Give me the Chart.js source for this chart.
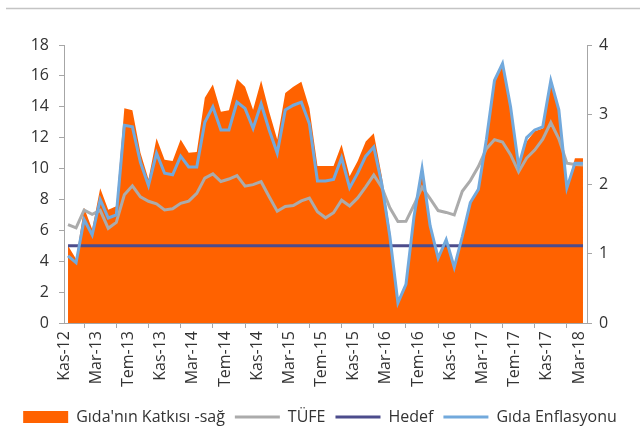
<!DOCTYPE html>
<html>
<head>
<meta charset="utf-8">
<script src="https://cdn.jsdelivr.net/npm/chart.js@4.4.1/dist/chart.umd.min.js"></script>
<style>
  body { margin: 0; background: #fff; }
</style>
</head>
<body>
<canvas id="chart" width="640" height="437"></canvas>
<script>
// aylar (Kas-12 .. Mar-18)
const categories = [
  'Kas-12','Ara-12',
  'Oca-13','Şub-13','Mar-13','Nis-13','May-13','Haz-13','Tem-13','Ağu-13','Eyl-13','Eki-13','Kas-13','Ara-13',
  'Oca-14','Şub-14','Mar-14','Nis-14','May-14','Haz-14','Tem-14','Ağu-14','Eyl-14','Eki-14','Kas-14','Ara-14',
  'Oca-15','Şub-15','Mar-15','Nis-15','May-15','Haz-15','Tem-15','Ağu-15','Eyl-15','Eki-15','Kas-15','Ara-15',
  'Oca-16','Şub-16','Mar-16','Nis-16','May-16','Haz-16','Tem-16','Ağu-16','Eyl-16','Eki-16','Kas-16','Ara-16',
  'Oca-17','Şub-17','Mar-17','Nis-17','May-17','Haz-17','Tem-17','Ağu-17','Eyl-17','Eki-17','Kas-17','Ara-17',
  'Oca-18','Şub-18','Mar-18'
];

// Gıda'nın Katkısı (sağ eksen)
const gidaKatkisi = [
  1.11, 0.92,
  1.66, 1.35, 1.94, 1.63, 1.68, 3.09, 3.06, 2.45, 2.07, 2.66, 2.35, 2.33,
  2.64, 2.45, 2.46, 3.24, 3.43, 3.04, 3.06, 3.51, 3.40, 3.07, 3.49, 3.04,
  2.64, 3.31, 3.40, 3.47, 3.09, 2.26, 2.26, 2.26, 2.57, 2.11, 2.33, 2.61,
  2.73, 2.11, 1.35, 0.30, 0.56, 1.55, 2.20, 1.35, 0.92, 1.18, 0.77, 1.23,
  1.73, 1.92, 2.64, 3.50, 3.74, 3.12, 2.26, 2.61, 2.76, 2.80, 3.45, 3.07,
  1.95, 2.37, 2.37
];

// TÜFE (sol eksen)
const tufe = [
  6.37, 6.16,
  7.31, 7.03, 7.29, 6.13, 6.51, 8.30, 8.88, 8.17, 7.88, 7.71, 7.32, 7.40,
  7.75, 7.89, 8.39, 9.38, 9.66, 9.16, 9.32, 9.54, 8.86, 8.96, 9.15, 8.17,
  7.24, 7.55, 7.61, 7.91, 8.09, 7.20, 6.81, 7.14, 7.95, 7.58, 8.10, 8.81,
  9.58, 8.78, 7.46, 6.57, 6.58, 7.64, 8.79, 8.05, 7.28, 7.16, 7.00, 8.53,
  9.22, 10.13, 11.29, 11.87, 11.72, 10.90, 9.79, 10.68, 11.20, 11.90, 12.98, 11.92,
  10.35, 10.26, 10.23
];

// Hedef
const hedef = [
  5, 5,
  5, 5, 5, 5, 5, 5, 5, 5, 5, 5, 5, 5,
  5, 5, 5, 5, 5, 5, 5, 5, 5, 5, 5, 5,
  5, 5, 5, 5, 5, 5, 5, 5, 5, 5, 5, 5,
  5, 5, 5, 5, 5, 5, 5, 5, 5, 5, 5, 5,
  5, 5, 5, 5, 5, 5, 5, 5, 5, 5, 5, 5,
  5, 5, 5
];

// Gıda Enflasyonu (sol eksen)
const gidaEnflasyonu = [
  4.35, 3.90,
  6.70, 5.70, 8.00, 6.80, 7.00, 12.80, 12.70, 10.40, 8.90, 11.00, 9.70, 9.60,
  10.80, 10.10, 10.10, 13.00, 14.00, 12.50, 12.50, 14.30, 13.90, 12.60, 14.20, 12.50,
  11.00, 13.80, 14.10, 14.30, 12.90, 9.20, 9.20, 9.30, 10.70, 8.75, 9.70, 10.80,
  11.40, 9.00, 5.60, 1.30, 2.50, 6.90, 10.00, 6.30, 4.20, 5.40, 3.60, 5.60,
  7.80, 8.65, 11.90, 15.70, 16.80, 14.00, 10.15, 12.00, 12.50, 12.70, 15.70, 13.80,
  8.75, 10.35, 10.35
];

const leftTicks = [0, 2, 4, 6, 8, 10, 12, 14, 16, 18];
const rightTicks = [0, 1, 2, 3, 4];

const ORANGE = '#FF6200';
const GREY = '#ABABAB';
const NAVY = '#4C4C8C';
const BLUE = '#72A9DC';
const AXIS = '#A6A6A6';
const TEXT = '#333333';

Chart.defaults.font.family = "'Open Sans', sans-serif";
Chart.defaults.color = TEXT;

// ince gri üst çizgi
const topLine = {
  id: 'topLine',
  beforeDraw(c) {
    const ctx = c.ctx;
    ctx.save();
    ctx.strokeStyle = '#C4C4C4';
    ctx.lineWidth = 1.5;
    ctx.beginPath();
    ctx.moveTo(6, 8.5);
    ctx.lineTo(640, 8.5);
    ctx.stroke();
    ctx.restore();
  }
};

new Chart(document.querySelector('#chart'), {
  type: 'line',
  data: {
    labels: categories,
    datasets: [
      {
        label: "Gıda'nın Katkısı -sağ",
        data: gidaKatkisi,
        yAxisID: 'y1',
        backgroundColor: ORANGE,
        borderColor: ORANGE,
        borderWidth: 0,
        fill: 'origin',
        pointRadius: 0,
        order: 4
      },
      {
        label: 'TÜFE',
        data: tufe,
        yAxisID: 'y',
        borderColor: GREY,
        borderWidth: 3,
        fill: false,
        pointRadius: 0,
        order: 3
      },
      {
        label: 'Hedef',
        data: hedef,
        yAxisID: 'y',
        borderColor: NAVY,
        borderWidth: 3,
        fill: false,
        pointRadius: 0,
        order: 2
      },
      {
        label: 'Gıda Enflasyonu',
        data: gidaEnflasyonu,
        yAxisID: 'y',
        borderColor: BLUE,
        borderWidth: 3,
        fill: false,
        pointRadius: 0,
        order: 1
      }
    ]
  },
  options: {
    responsive: false,
    animation: false,
    layout: { padding: { top: 45, left: 0, right: 0, bottom: 2 } },
    plugins: {
      tooltip: { enabled: false },
      legend: {
        position: 'bottom',
        labels: {
          usePointStyle: true,
          pointStyleWidth: 45,
          boxHeight: 12,
          padding: 10,
          font: { size: 16 },
          color: TEXT,
          generateLabels(c) {
            return c.data.datasets.map((ds, i) => ({
              text: ds.label,
              datasetIndex: i,
              fillStyle: i === 0 ? ORANGE : ds.borderColor,
              strokeStyle: i === 0 ? ORANGE : ds.borderColor,
              lineWidth: i === 0 ? 0 : 3,
              pointStyle: i === 0 ? 'rect' : 'line',
              fontColor: TEXT,
              hidden: false
            }));
          }
        }
      }
    },
    scales: {
      x: {
        offset: true,
        grid: { offset: true, drawOnChartArea: false, tickLength: 5, color: AXIS },
        border: { color: AXIS, width: 1 },
        ticks: {
          autoSkip: false,
          minRotation: 90,
          maxRotation: 90,
          padding: 3,
          labelOffset: -4,
          font: { size: 16 },
          callback: (v, i) => (i % 4 === 0 ? categories[i] : null)
        },
        afterFit: s => { s.height = 76; }
      },
      y: {
        position: 'left',
        min: 0,
        max: 18,
        afterBuildTicks: s => { s.ticks = leftTicks.map(v => ({ value: v })); },
        grid: { drawOnChartArea: false, tickLength: 5, color: AXIS },
        border: { color: AXIS, width: 1 },
        ticks: { padding: 10, font: { size: 16 } },
        afterFit: s => { s.width = 64; }
      },
      y1: {
        position: 'right',
        min: 0,
        max: 4,
        afterBuildTicks: s => { s.ticks = rightTicks.map(v => ({ value: v })); },
        grid: { drawOnChartArea: false, tickLength: 5, color: AXIS },
        border: { color: AXIS, width: 1 },
        ticks: { padding: 7, font: { size: 16 } },
        afterFit: s => { s.width = 53; }
      }
    }
  },
  plugins: [topLine]
});
</script>
</body>
</html>
